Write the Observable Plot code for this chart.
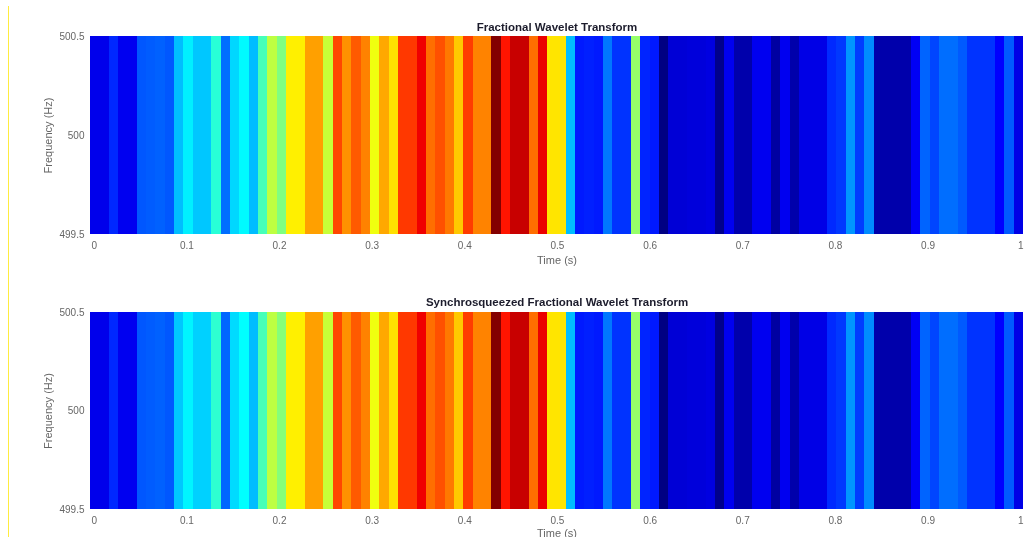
<!DOCTYPE html>
<html><head><meta charset="utf-8">
<style>
html,body{margin:0;padding:0;background:#fff;}
#page{position:relative;width:1034px;height:537px;overflow:hidden;filter:blur(0.75px);}
#edge{position:absolute;left:8px;top:6px;width:1px;height:531px;background:#ffec40;}
#p1,#p2{position:absolute;left:0;}
#p1{top:0;} #p2{top:270px;}
svg{display:block;}
</style>
<script src="https://cdn.jsdelivr.net/npm/d3@7"></script>
<script src="https://cdn.jsdelivr.net/npm/@observablehq/plot@0.6"></script>
</head><body>
<div id="page"><div id="edge"></div><div id="p1"></div><div id="p2"></div></div>
<script>
const timeDomain = [-0.004, 1.003];
const freqDomain = [499.5, 500.5];
const timeTicks = [0,0.1,0.2,0.3,0.4,0.5,0.6,0.7,0.8,0.9,1];
const freqTicks = [499.5,500,500.5];
const titleTop = "Fractional Wavelet Transform";
const titleBottom = "Synchrosqueezed Fractional Wavelet Transform";
const jetStops = [0,0.125,0.375,0.625,0.875,1];
const jetColors = ["#000080","#0000ff","#00ffff","#ffff00","#ff0000","#800000"];
// Normalised magnitude of each of the 100 time bins
const fwt = [
.105,.105,.164,.11,.11,.21,.215,.22,.21,.311,
.36,.32,.32,.414,.233,.336,.37,.31,.444,.561,
.5,.64,.64,.718,.718,.57,.806,.733,.787,.748,
.61,.71,.655,.82,.82,.89,.767,.797,.757,.678,
.816,.747,.747,.9975,.855,.929,.929,.767,.895,.65,
.65,.31,.15,.155,.15,.243,.175,.175,.522,.16,
.15,.0025,.085,.085,.09,.09,.095,.012,.11,.042,
.042,.11,.11,.032,.11,.042,.10,.10,.10,.165,
.18,.272,.184,.262,.042,.042,.042,.042,.115,.223,
.193,.233,.233,.213,.175,.175,.175,.125,.213,.10];
const sfwt = [
.105,.105,.164,.11,.11,.21,.215,.22,.21,.32,
.365,.33,.33,.42,.225,.34,.375,.31,.445,.56,
.505,.64,.64,.718,.718,.57,.806,.733,.787,.748,
.61,.71,.655,.82,.82,.89,.767,.797,.757,.678,
.816,.747,.747,.9975,.855,.929,.929,.767,.895,.65,
.65,.31,.15,.155,.15,.243,.175,.175,.522,.16,
.15,.0025,.085,.085,.09,.09,.095,.012,.11,.042,
.042,.11,.11,.032,.11,.042,.10,.10,.10,.165,
.18,.272,.184,.262,.042,.042,.042,.042,.115,.223,
.193,.233,.233,.213,.175,.175,.175,.125,.213,.10];

const binW = (timeDomain[1]-timeDomain[0])/fwt.length;
function panel(values, title, height, marginTop, marginBottom, labelOffset, titleDy){
  const rows = values.map((v,i)=>({t0:timeDomain[0]+i*binW,t1:timeDomain[0]+(i+1)*binW,v}));
  return Plot.plot({
    width:1034,height,marginTop,marginBottom,marginLeft:90,marginRight:11,
    style:{fontFamily:"'Liberation Sans',Arial,sans-serif",fontSize:"10px",background:"transparent"},
    x:{domain:timeDomain},
    y:{domain:freqDomain},
    color:{type:"linear",domain:jetStops,range:jetColors,interpolate:"rgb"},
    marks:[
      Plot.rect(rows,{x1:"t0",x2:"t1",y1:freqDomain[0],y2:freqDomain[1],fill:"v",shapeRendering:"crispEdges",inset:0}),
      Plot.axisX({ticks:timeTicks,tickFormat:d=>String(d),tickSize:0,tickPadding:7,fill:"#666",
        label:null}),
      Plot.axisY({ticks:freqTicks,tickFormat:d=>String(d),tickSize:0,tickPadding:6,fill:"#666",
        label:null}),
      Plot.text(["Time (s)"],{frameAnchor:"bottom",dy:labelOffset,text:d=>d,fontSize:11,fill:"#666"}),
      Plot.text(["Frequency (Hz)"],{frameAnchor:"left",textAnchor:"middle",dx:-42,rotate:-90,text:d=>d,fontSize:11,fill:"#666"}),
      Plot.text([title],{frameAnchor:"top",dy:titleDy,text:d=>d,fontWeight:"bold",fontSize:11.5,fill:"#1c1c2c"})
    ]
  });
}
document.getElementById("p1").append(panel(fwt,titleTop,270,36,36,29,-14));
document.getElementById("p2").append(panel(sfwt,titleBottom,267,42,28,27,-15));
</script>
</body></html>
